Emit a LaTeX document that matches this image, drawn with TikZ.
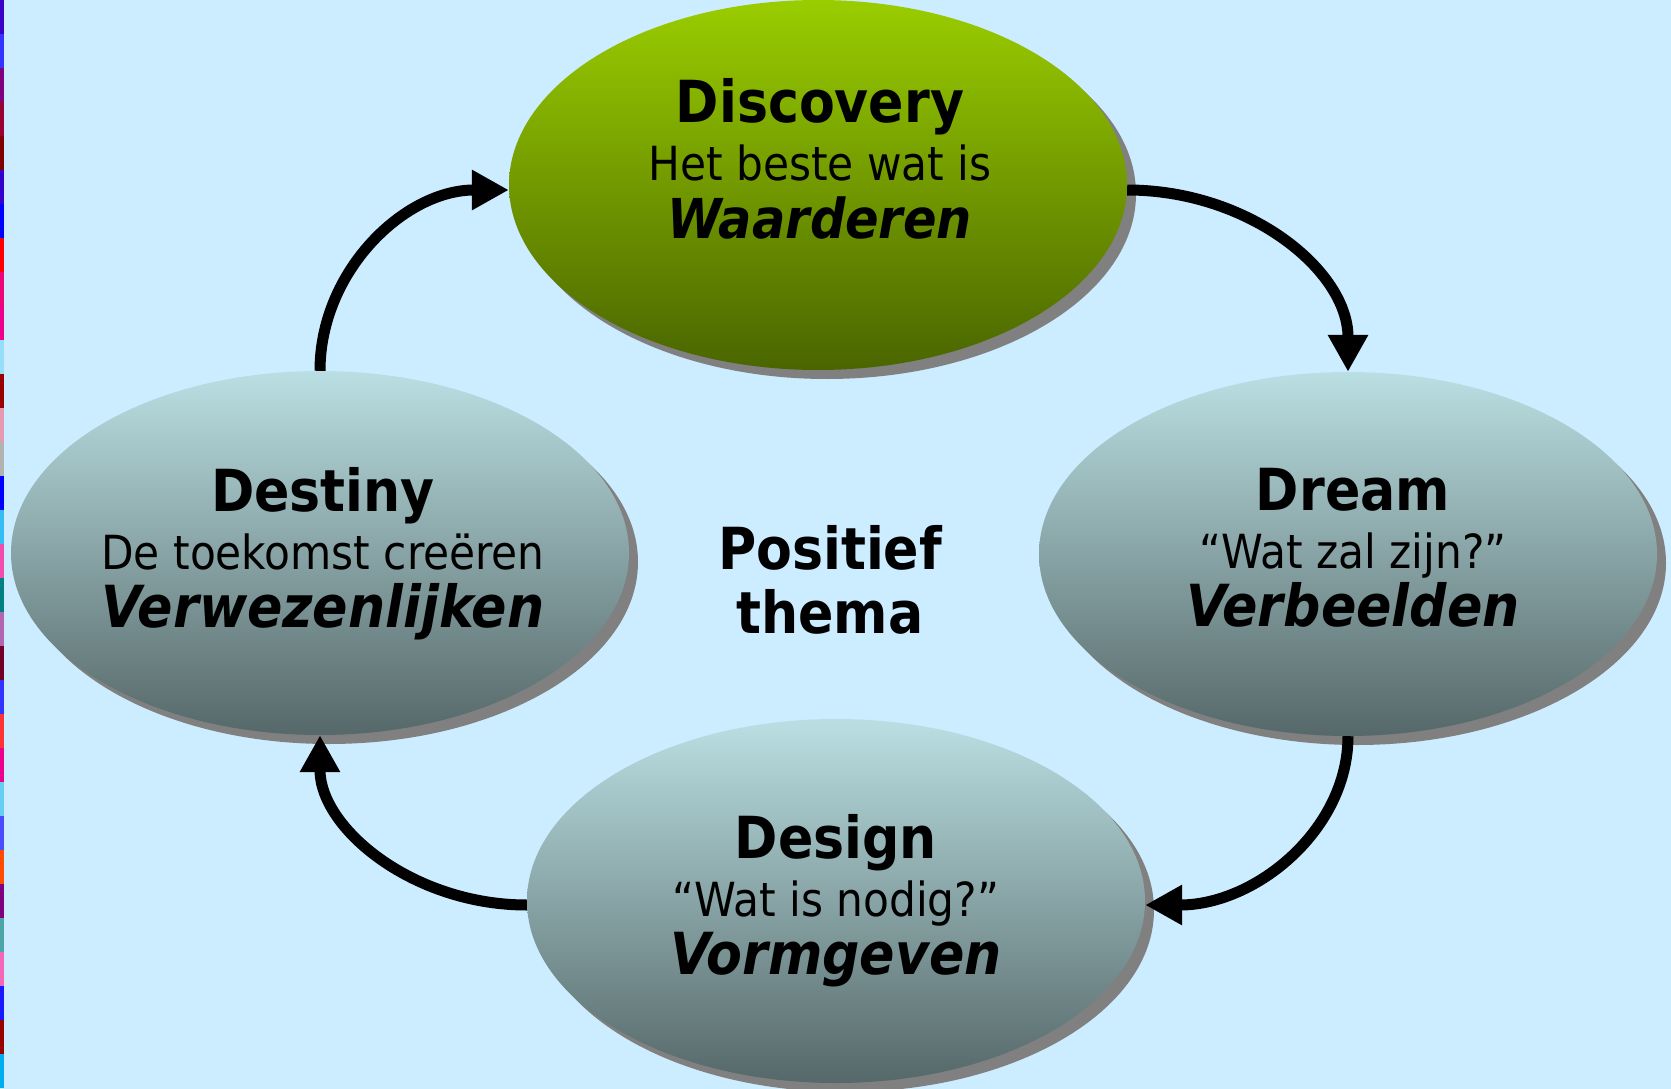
\documentclass[tikz,border=0pt]{standalone}
\usepackage{fontspec}
\setmainfont{DejaVu Sans Condensed}[BoldFont={DejaVu Sans Condensed Bold},ItalicFont={DejaVu Sans Condensed Oblique},BoldItalicFont={DejaVu Sans Condensed Bold Oblique}]
\usetikzlibrary{arrows.meta,shapes.geometric,shadows}
\definecolor{bgblue}{HTML}{CCECFF}
\definecolor{greentop}{HTML}{9ACD00}
\definecolor{greenbot}{HTML}{4A6500}
\definecolor{tealtop}{HTML}{BADFE2}
\definecolor{tealbot}{HTML}{566869}
\definecolor{shadowgray}{HTML}{808080}
\newcommand{\stagetitle}[1]{{\fontsize{58}{58}\selectfont\bfseries #1}}
\newcommand{\stagekey}[1]{{\fontsize{58}{58}\selectfont\bfseries\itshape #1}}
\begin{document}
\begin{tikzpicture}[x=1pt,y=-1pt,
  stage/.style={ellipse, draw=none, inner sep=0pt, minimum width=618pt, minimum height=364pt,
    shading=axis, top color=tealtop, bottom color=tealbot,
    drop shadow={shadow xshift=9pt, shadow yshift=-9pt, fill=shadowgray, opacity=1}},
  lbl/.style={align=center, inner sep=0pt, text=black, font=\fontsize{47}{58}\selectfont},
  arr/.style={line width=11pt, -{Triangle[length=37pt,width=38pt]}}]
\fill[bgblue] (0,0) rectangle (1671,1089);
\useasboundingbox (0,0) rectangle (1671,1089);
% left colour strip
\foreach \c [count=\i from 0] in {blue!70!purple, blue!80, violet, purple!80!black, red!50!black, blue!60!violet, blue, red, magenta!80!red, magenta, cyan!40, red!60!black, pink!80!violet, gray!60, blue, cyan!80, magenta!70, teal, violet!60, purple!60!black, blue!80, red!80, magenta, cyan!60, blue!70, orange!60!red, violet, teal!70, magenta!60, blue!90, red!60!black, cyan}
  \fill[\c] (0,{\i*34}) rectangle (4,{\i*34+34});
% stages
\node[stage, minimum height=370pt, top color=greentop, bottom color=greenbot] (disc) at (818,185) {};
\node[stage] (dream) at (1348,554) {};
\node[stage] (destiny) at (320,553) {};
\node[stage] (design) at (836,901) {};
% labels
\node[lbl] (discT) at (820,159) {\stagetitle{Discovery}\\Het beste wat is\\{\fontsize{55}{58}\selectfont\bfseries\itshape Waarderen}};
\node[lbl] (dreamT) at (1353,548) {\stagetitle{Dream}\\“Wat zal zijn?”\\\stagekey{Verbeelden}};
\node[lbl] (destinyT) at (323,554) {\stagetitle{Destiny}\\De toekomst creëren\\\stagekey{Verwezenlijken}};
\node[lbl] (designT) at (836,901) {\stagetitle{Design}\\“Wat is nodig?”\\\stagekey{Vormgeven}};
\node[lbl, font=\fontsize{58}{64}\selectfont\bfseries] (theme) at (830,580) {Positief\\thema};
% connectors
\draw[arr] ([yshift=-5pt]disc.east) .. controls +(122,0) and +(0,-101) .. (dream.north);
\draw[arr] (dream.south) .. controls +(0,93) and +(111,0) .. ([yshift=-4pt]design.east);
\draw[arr] ([yshift=-4pt]design.west) .. controls +(-114,0) and +(0,93) .. (destiny.south);
\draw[arr] (destiny.north) .. controls +(0,-100) and +(-104,0) .. ([yshift=-5pt]disc.west);
\end{tikzpicture}
\end{document}
